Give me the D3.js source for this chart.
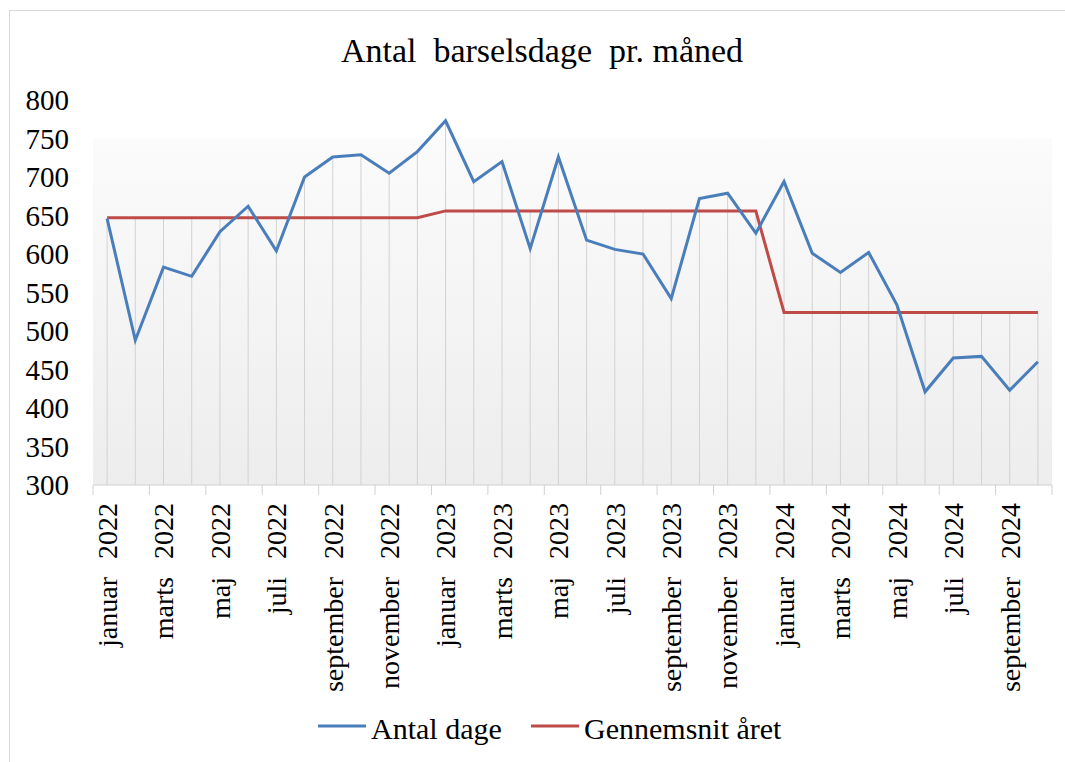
<!DOCTYPE html>
<html>
<head>
<meta charset="utf-8">
<script src="https://cdn.jsdelivr.net/npm/d3@7"></script>
<style>
  body { margin: 0; background: #fff; }
  svg text { font-family: "Liberation Serif", "Times New Roman", serif; fill: #000; }
</style>
</head>
<body>
<div id="chart"></div>
<script>
// data
const monthNames = ["januar", "februar", "marts", "april", "maj", "juni", "juli",
  "august", "september", "oktober", "november", "december"];
const years = [2022, 2023, 2024];
const categories = [];
years.forEach(y => monthNames.forEach(m => categories.push(m + "  " + y)));
categories.length = 34; // januar 2022 .. oktober 2024

const antalDage = [646, 488, 583, 571, 629, 662, 604, 700, 726, 729, 705, 733,
  773, 694, 720, 607, 726, 618, 606, 600, 542, 672, 679, 627,
  694, 601, 576, 602, 534, 421, 465, 467, 423, 460];
const gennemsnit = [647, 647, 647, 647, 647, 647, 647, 647, 647, 647, 647, 647,
  656, 656, 656, 656, 656, 656, 656, 656, 656, 656, 656, 656,
  524, 524, 524, 524, 524, 524, 524, 524, 524, 524];
const yTicks = [300, 350, 400, 450, 500, 550, 600, 650, 700, 750, 800];

const W = 1065, H = 762;
const svg = d3.select("#chart").append("svg").attr("width", W).attr("height", H);

svg.append("rect").attr("x", 9.5).attr("y", 10.5).attr("width", 1100).attr("height", 800)
  .attr("fill", "#fff").attr("stroke", "#d9d9d9");

const x = d3.scaleBand().domain(categories).range([93, 1052]);
const y = d3.scaleLinear().domain([300, 800]).range([485, 100]);
const cx = d => x(d) + x.bandwidth() / 2;

const grad = svg.append("defs").append("linearGradient").attr("id", "bg")
  .attr("x1", 0).attr("y1", 0).attr("x2", 0).attr("y2", 1);
grad.append("stop").attr("offset", "0%").attr("stop-color", "#fbfbfb");
grad.append("stop").attr("offset", "100%").attr("stop-color", "#ededed");

svg.append("rect").attr("x", 93).attr("y", y(750)).attr("width", 1052 - 93)
  .attr("height", y(300) - y(750)).attr("fill", "url(#bg)");

// drop lines
svg.append("g").selectAll("line").data(categories).join("line")
  .attr("x1", cx).attr("x2", cx)
  .attr("y1", (d, i) => y(Math.max(antalDage[i], gennemsnit[i]))).attr("y2", y(300))
  .attr("stroke", "#d2d2d2").attr("stroke-width", 1);

// x axis
svg.append("line").attr("x1", 93).attr("x2", 1052).attr("y1", y(300)).attr("y2", y(300))
  .attr("stroke", "#d0d0d0");
svg.append("g").selectAll("line").data(d3.range(0, categories.length + 1, 2)).join("line")
  .attr("x1", i => 93 + i * x.bandwidth()).attr("x2", i => 93 + i * x.bandwidth())
  .attr("y1", y(300)).attr("y2", y(300) + 10).attr("stroke", "#d0d0d0");

svg.append("g").selectAll("text").data(categories.filter((d, i) => i % 2 === 0)).join("text")
  .attr("transform", d => `translate(${cx(d)},${y(300) + 18}) rotate(-90)`)
  .attr("text-anchor", "end").attr("dy", "0.35em")
  .style("font-size", "28px").style("white-space", "pre").style("word-spacing", "2px")
  .text(d => d);

// y labels
svg.append("g").selectAll("text").data(yTicks).join("text")
  .attr("x", 69).attr("y", d => y(d)).attr("dy", "0.35em")
  .attr("text-anchor", "end").style("font-size", "29px").text(d => d);

// lines
const line = arr => d3.line().x((d, i) => cx(categories[i])).y(d => y(d))(arr);
svg.append("path").attr("d", line(gennemsnit)).attr("fill", "none")
  .attr("stroke", "#be4b48").attr("stroke-width", 3);
svg.append("path").attr("d", line(antalDage)).attr("fill", "none")
  .attr("stroke", "#4a7ebb").attr("stroke-width", 3);

// title
svg.append("text").attr("x", 542).attr("y", 62).attr("text-anchor", "middle")
  .style("font-size", "34px").style("white-space", "pre").text("Antal  barselsdage  pr. måned");

// legend
const legend = [{ name: "Antal dage", color: "#4a7ebb", x: 318 },
  { name: "Gennemsnit året", color: "#be4b48", x: 531 }];
const lg = svg.append("g").selectAll("g").data(legend).join("g");
lg.append("line").attr("x1", d => d.x).attr("x2", d => d.x + 48)
  .attr("y1", 726).attr("y2", 726).attr("stroke", d => d.color).attr("stroke-width", 3);
lg.append("text").attr("x", d => d.x + 53).attr("y", 739).style("font-size", "30px")
  .text(d => d.name);
</script>
</body>
</html>
